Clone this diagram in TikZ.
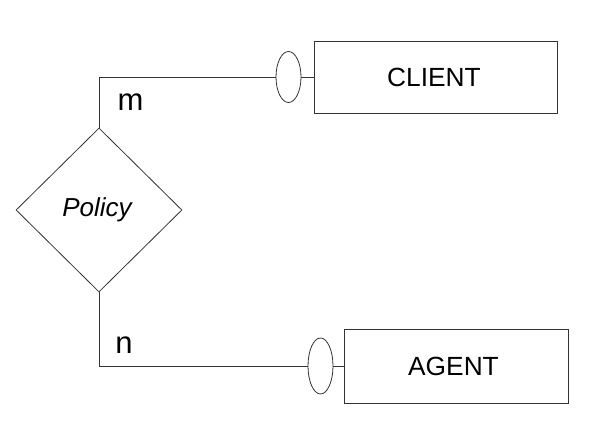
\documentclass[tikz,border=0pt]{standalone}
\usepackage{fontspec}
\setmainfont{Liberation Sans}
\usetikzlibrary{shapes.geometric}
\begin{document}
\begin{tikzpicture}[x=1pt,y=-1pt,
  ln/.style={draw=black!80,line width=0.8pt},
  entity/.style={ln,rectangle,inner sep=0pt,font=\fontsize{26.3}{30}\selectfont},
  rel/.style={ln,diamond,inner sep=0pt,minimum width=166pt,minimum height=164pt,font=\fontsize{26}{30}\selectfont\itshape},
  card/.style={ln,ellipse,inner sep=0pt,minimum width=25pt},
  lbl/.style={inner sep=0pt,font=\fontsize{31}{34}\selectfont}]
\useasboundingbox (0,0) rectangle (608,425);
\node[rel] (pol) at (99,210) {Policy\hspace*{4pt}};
\node[entity,minimum width=243pt,minimum height=72pt] (client) at (435.5,77) {CLIENT\hspace*{3pt}};
\node[entity,minimum width=224pt,minimum height=74pt] (agent) at (456,366) {AGENT\hspace*{5pt}};
\node[card,minimum height=51pt] (e1) at (288.5,77) {};
\node[card,minimum height=56pt] (e2) at (320.5,366) {};
\draw[ln] (pol.north) |- (e1.west);
\draw[ln] (e1.east) -- (client.west);
\draw[ln] (pol.south) |- (e2.west);
\draw[ln] (e2.east) -- (agent.west);
\node[lbl] (m) at (130.5,102) {m};
\node[lbl] (n) at (124,345) {n};
\end{tikzpicture}
\end{document}
